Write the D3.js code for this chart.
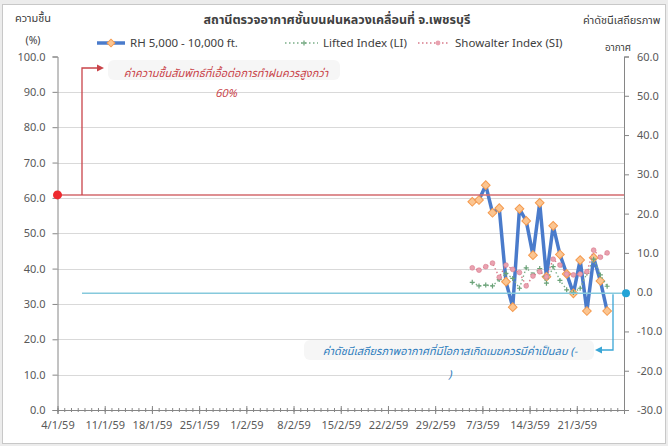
<!DOCTYPE html>
<html>
<head>
<meta charset="utf-8">
<script src="https://cdn.jsdelivr.net/npm/d3@7"></script>
<style>
body{margin:0;background:#fff;}
svg text{font-family:Tahoma,"Noto Sans Thai","Noto Sans","DejaVu Sans",sans-serif;}
</style>
</head>
<body>
<div class="plot"></div>
<script>
// observation days (Mar 2016 = 2559 BE)
var dates = ['2016-03-05','2016-03-06','2016-03-07','2016-03-08','2016-03-09','2016-03-10','2016-03-11',
             '2016-03-12','2016-03-13','2016-03-14','2016-03-15','2016-03-16','2016-03-17','2016-03-18',
             '2016-03-19','2016-03-20','2016-03-21','2016-03-22','2016-03-23','2016-03-24','2016-03-25'];
var rh = [58.9,59.4,63.6,55.8,57.1,36.3,29.1,56.9,53.5,43.8,58.6,37.7,52.1,44.0,38.5,33.0,42.4,28.0,43.1,36.5,28.0];
var li = [2.5,1.6,1.8,1.6,3.2,4.8,3.5,1.0,6.2,4.5,6.0,2.3,6.5,3.0,0.6,-0.1,1.0,4.8,8.4,4.4,1.5];
var si = [6.2,5.6,6.5,7.4,3.8,6.9,5.8,5.0,1.6,4.1,5.2,3.9,8.4,6.9,4.6,4.4,4.6,5.2,10.7,8.9,10.0];

var seriesNames = ['RH 5,000 - 10,000 ft.','Lifted Index (LI)','Showalter Index (SI)'];
var rhTicks = d3.range(0,101,10);
var idxTicks = d3.range(-30,61,10);
var axisStart = '2016-01-04', axisEnd = '2016-03-28';
var rhLimit = 60, idxLimit = 0;

var W = 668, H = 446;
var m = {l:57.5, r:624, t:56.5, b:410};
var parse = d3.timeParse('%Y-%m-%d');
var x0 = parse(axisStart), x1 = parse(axisEnd);

var x = d3.scaleTime().domain([x0,x1]).range([m.l,m.r]);
var yL = d3.scaleLinear().domain([0,100]).range([m.b,m.t]);
var yR = d3.scaleLinear().domain([-30,60]).range([m.b,m.t]);

// points sit in the middle of their day slot
var pts = dates.map(function(d,i){
    return {t:d3.timeHour.offset(parse(d),12), rh:rh[i], li:li[i], si:si[i]};
});

var fmtDate = function(d){return d.getDate()+'/'+(d.getMonth()+1)+'/'+((d.getFullYear()+543)%100);};

var svg = d3.select('.plot').append('svg').attr('width',W).attr('height',H);
svg.append('rect').attr('width',W).attr('height',H).attr('fill','#ececec');
svg.append('rect').attr('x',2.5).attr('y',4.5).attr('width',W-5).attr('height',H-7)
    .attr('fill','#fff').attr('stroke','#c8c8c8');

// gridlines
svg.append('g').selectAll('line').data(rhTicks.filter(function(d){return d>0 && d<100;}))
    .enter().append('line')
    .attr('x1',m.l).attr('x2',m.r)
    .attr('y1',function(d){return Math.round(yL(d))+0.5;}).attr('y2',function(d){return Math.round(yL(d))+0.5;})
    .attr('stroke','#d9d9d9');

// left axis
var gl = svg.append('g').attr('transform','translate('+m.l+',0)')
    .call(d3.axisLeft(yL).tickValues(rhTicks).tickFormat(d3.format('.1f')).tickSize(5).tickPadding(7));
// right axis
var gr = svg.append('g').attr('transform','translate('+m.r+',0)')
    .call(d3.axisRight(yR).tickValues(idxTicks).tickFormat(d3.format('.1f')).tickSize(5).tickPadding(8));
// bottom axis, minor day ticks + weekly major ticks
var gm = svg.append('g').attr('transform','translate(0,'+m.b+')')
    .call(d3.axisBottom(x).tickValues(d3.timeDay.range(x0,d3.timeDay.offset(x1,1))).tickSize(2).tickFormat(''));
gm.selectAll('.tick line').attr('y1',-2);
var gb = svg.append('g').attr('transform','translate(0,'+m.b+')')
    .call(d3.axisBottom(x).tickValues(d3.timeDay.range(x0,x1,7)).tickSize(4).tickPadding(7).tickFormat(fmtDate));
gb.selectAll('.tick line').attr('y1',-4);

[gl,gr,gm,gb].forEach(function(g){
    g.select('.domain').attr('stroke','#868686');
    g.selectAll('.tick line').attr('stroke','#868686');
    g.selectAll('text').attr('fill','#595959').style('font-size','11px');
});

// RH series
var plot = svg.append('g');
plot.append('path').datum(pts)
    .attr('d',d3.line().x(function(d){return x(d.t);}).y(function(d){return yL(d.rh);}))
    .attr('fill','none').attr('stroke','#4a7bcb').attr('stroke-width',3.5).attr('stroke-linejoin','round');
plot.selectAll('.dia').data(pts).enter().append('path').attr('class','dia')
    .attr('d',d3.symbol(d3.symbolSquare,38)())
    .attr('transform',function(d){return 'translate('+x(d.t)+','+yL(d.rh)+') rotate(45)';})
    .attr('fill','#fbc591').attr('stroke','#f59a4e').attr('stroke-width',1);

// LI series
plot.append('path').datum(pts)
    .attr('d',d3.line().x(function(d){return x(d.t);}).y(function(d){return yR(d.li);}))
    .attr('fill','none').attr('stroke','#7aae88').attr('stroke-width',1.4).attr('stroke-dasharray','1.5,2.5');
plot.selectAll('.lim').data(pts).enter().append('path').attr('class','lim')
    .attr('d','M-2.5,0H2.5M0,-2.5V2.5')
    .attr('transform',function(d){return 'translate('+x(d.t)+','+yR(d.li)+')';})
    .attr('stroke','#6aa278').attr('stroke-width',1.2);

// SI series
plot.append('path').datum(pts)
    .attr('d',d3.line().x(function(d){return x(d.t);}).y(function(d){return yR(d.si);}))
    .attr('fill','none').attr('stroke','#d87a8a').attr('stroke-width',1.4).attr('stroke-dasharray','1.5,2.5');
plot.selectAll('.sim').data(pts).enter().append('circle').attr('class','sim')
    .attr('cx',function(d){return x(d.t);}).attr('cy',function(d){return yR(d.si);})
    .attr('r',2.4).attr('fill','#e9a2b0').attr('stroke','#d8798b').attr('stroke-width',0.6);

// titles
svg.append('text').attr('x',337).attr('y',24).attr('text-anchor','middle')
    .style('font-size','12.5px').style('font-weight','bold').attr('fill','#404040')
    .text('สถานีตรวจอากาศชั้นบนฝนหลวงเคลื่อนที่  จ.เพชรบุรี');
svg.append('text').attr('x',33).attr('y',22).attr('text-anchor','middle')
    .style('font-size','11px').attr('fill','#404040').text('ความชื้น');
svg.append('text').attr('x',33).attr('y',44).attr('text-anchor','middle')
    .style('font-size','10.5px').attr('fill','#404040').text('(%)');
svg.append('text').attr('x',583).attr('y',24)
    .style('font-size','11px').attr('fill','#404040').text('ค่าดัชนีเสถียรภาพ');
svg.append('text').attr('x',605).attr('y',51)
    .style('font-size','10px').attr('fill','#404040').text('อากาศ');

// legend
var lg = svg.append('g').attr('transform','translate(0,43)');
lg.append('line').attr('x1',97).attr('x2',125).attr('stroke','#4a7bcb').attr('stroke-width',3.5);
lg.append('path').attr('d',d3.symbol(d3.symbolSquare,30)()).attr('transform','translate(111,0) rotate(45)')
    .attr('fill','#fbc591').attr('stroke','#f59a4e');
lg.append('line').attr('x1',285).attr('x2',318).attr('stroke','#7aae88').attr('stroke-width',1.4).attr('stroke-dasharray','1.5,2.5');
lg.append('path').attr('d','M-2.5,0H2.5M0,-2.5V2.5').attr('transform','translate(304,0)').attr('stroke','#6aa278').attr('stroke-width',1.2);
lg.append('line').attr('x1',418).attr('x2',450).attr('stroke','#d87a8a').attr('stroke-width',1.4).attr('stroke-dasharray','1.5,2.5');
lg.append('circle').attr('cx',438).attr('cy',0).attr('r',2.4).attr('fill','#e9a2b0');
lg.selectAll('text').data(seriesNames).enter().append('text')
    .attr('x',function(d,i){return [130,323,455][i];}).attr('y',4)
    .style('font-size','11.5px').attr('fill','#404040').text(function(d){return d;});

// annotation: RH threshold
var red = '#c9444a';
var yRed = yL(rhLimit) - 3;
svg.append('line').attr('x1',m.l).attr('x2',m.r).attr('y1',yRed).attr('y2',yRed)
    .attr('stroke','#d36a6e').attr('stroke-width',1.5);
svg.append('circle').attr('cx',m.l).attr('cy',yRed).attr('r',4.5).attr('fill','#ee2a2f');
svg.append('path').attr('d','M82,'+yRed+'V68H99').attr('fill','none').attr('stroke',red).attr('stroke-width',1.3);
svg.append('path').attr('d','M104,68L97,64.5V71.5Z').attr('fill',red);
svg.append('rect').attr('x',108).attr('y',60).attr('width',232).attr('height',20).attr('rx',6).attr('fill','#f6f6f6');
svg.append('text').attr('x',226).attr('y',77).attr('text-anchor','middle')
    .style('font-size','11px').style('font-style','italic').attr('fill',red)
    .text('ค่าความชื้นสัมพัทธ์ที่เอื้อต่อการทำฝนควรสูงกว่า');
svg.append('text').attr('x',226).attr('y',97).attr('text-anchor','middle')
    .style('font-size','11px').style('font-style','italic').attr('fill',red).text('60%');

// annotation: stability index threshold
var blue = '#2f7dbd';
var yCy = yR(idxLimit) + 1;
svg.append('line').attr('x1',82).attr('x2',m.r).attr('y1',yCy).attr('y2',yCy)
    .attr('stroke','#86c9dc').attr('stroke-width',1.5);
svg.append('circle').attr('cx',m.r+2).attr('cy',yCy).attr('r',4).attr('fill','#22a3d6');
svg.append('path').attr('d','M613,'+(yCy+1)+'V350H600').attr('fill','none').attr('stroke','#3aa6d6').attr('stroke-width',1.3);
svg.append('path').attr('d','M595,350L602,346.5V353.5Z').attr('fill','#3aa6d6');
svg.append('rect').attr('x',304).attr('y',340).attr('width',290).attr('height',20).attr('rx',6).attr('fill','#f6f6f6');
svg.append('text').attr('x',450).attr('y',355).attr('text-anchor','middle')
    .style('font-size','11px').style('font-style','italic').attr('fill',blue)
    .text('ค่าดัชนีเสถียรภาพอากาศที่มีโอกาสเกิดเมฆควรมีค่าเป็นลบ (-');
svg.append('text').attr('x',450).attr('y',378).attr('text-anchor','middle')
    .style('font-size','11px').style('font-style','italic').attr('fill',blue).text(')');
</script>
</body>
</html>
